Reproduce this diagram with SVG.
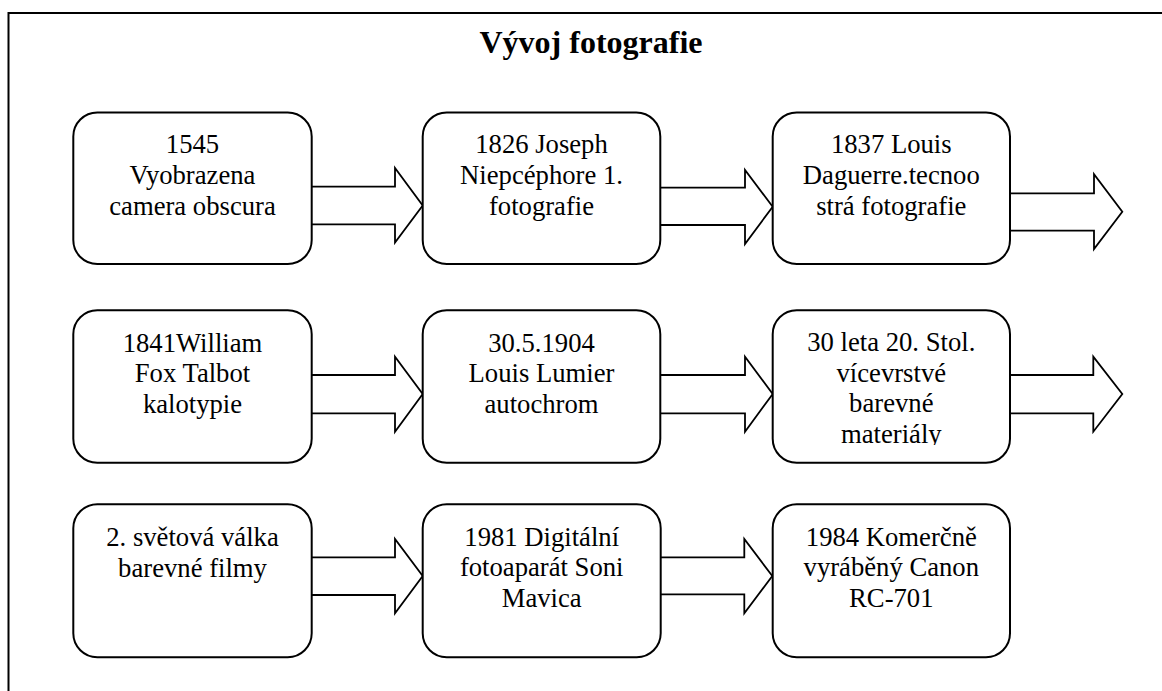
<svg xmlns="http://www.w3.org/2000/svg" width="1162" height="691" viewBox="0 0 1162 691">
<style>
.box{fill:#fff;stroke:#000;stroke-width:2}
.arr{fill:#fff;stroke:#000;stroke-width:1.8;stroke-linejoin:miter}
.t{font-family:"Liberation Serif","Times New Roman",serif;font-size:26.67px;fill:#000;text-anchor:middle}
.title{font-family:"Liberation Serif","Times New Roman",serif;font-size:32px;font-weight:bold;fill:#000;text-anchor:middle}
</style>
<defs>
<clipPath id="clip6"><rect x="772" y="310" width="240" height="135"/></clipPath>
</defs>
<rect width="1162" height="691" fill="#fff"/>
<path d="M8.5,691 V13 H1162" fill="none" stroke="#000" stroke-width="2"/>
<text class="title" x="591" y="53">Vývoj fotografie</text>
<g id="connectors">
<path class="arr" d="M312,186.7 H395 V168 L422.7,205.5 L395,242.5 V224.3 H312"/>
<path class="arr" d="M660,187.7 H745 V170 L772.7,206.7 L745,244 V225 H660"/>
<path class="arr" d="M1010,193.3 H1094 V174.3 L1122.3,211.7 L1094,249 V230.7 H1010"/>
<path class="arr" d="M312,375 H395 V356.7 L422.7,394 L395,431.7 V413.3 H312"/>
<path class="arr" d="M660,375 H745 V356.7 L772.7,394 L745,431.7 V413.3 H660"/>
<path class="arr" d="M1010,375 H1093.3 V356.7 L1122.3,394 L1093.3,431.7 V413.3 H1010"/>
<path class="arr" d="M312,557.3 H395 V539 L422.7,576 L395,613.3 V595 H312"/>
<path class="arr" d="M660.7,557.3 H744.3 V539 L772.3,576 L744.3,613.3 V594.3 H660.7"/>
</g>
<g id="n1"><rect class="box" x="73.3" y="112.5" width="238.4" height="151.5" rx="24"/>
<text class="t"><tspan x="192.5" y="153.3">1545</tspan><tspan x="192.5" y="184.3">Vyobrazena</tspan><tspan x="192.5" y="215">camera obscura</tspan></text></g>
<g id="n2"><rect class="box" x="422.7" y="112.5" width="237.6" height="151.5" rx="24"/>
<text class="t"><tspan x="541.5" y="153.3">1826 Joseph</tspan><tspan x="541.5" y="184">Niepcéphore 1.</tspan><tspan x="541.5" y="215">fotografie</tspan></text></g>
<g id="n3"><rect class="box" x="772.7" y="112.5" width="237.3" height="151.5" rx="24"/>
<text class="t"><tspan x="891.3" y="153.3">1837 Louis</tspan><tspan x="891.3" y="184">Daguerre.tecnoo</tspan><tspan x="891.3" y="215">strá fotografie</tspan></text></g>
<g id="n4"><rect class="box" x="73.3" y="310.3" width="238.4" height="152.4" rx="24"/>
<text class="t"><tspan x="192.5" y="351.5">1841William</tspan><tspan x="192.5" y="382.2">Fox Talbot</tspan><tspan x="192.5" y="412.7">kalotypie</tspan></text></g>
<g id="n5"><rect class="box" x="422.7" y="310.3" width="237.6" height="152.4" rx="24"/>
<text class="t"><tspan x="541.5" y="351.5">30.5.1904</tspan><tspan x="541.5" y="382.2">Louis Lumier</tspan><tspan x="541.5" y="412.7">autochrom</tspan></text></g>
<g id="n6"><rect class="box" x="772.7" y="310.3" width="237.3" height="152.4" rx="24"/>
<text class="t" clip-path="url(#clip6)"><tspan x="891.3" y="351">30 leta 20. Stol.</tspan><tspan x="891.3" y="381.7">vícevrstvé</tspan><tspan x="891.3" y="412.3">barevné</tspan><tspan x="891.3" y="442.5">materiály</tspan></text></g>
<g id="n7"><rect class="box" x="73.3" y="504.3" width="238.4" height="153" rx="24"/>
<text class="t"><tspan x="192.5" y="546">2. světová válka</tspan><tspan x="192.5" y="576.7">barevné filmy</tspan></text></g>
<g id="n8"><rect class="box" x="422.7" y="504.3" width="238" height="153" rx="24"/>
<text class="t"><tspan x="541.7" y="546">1981 Digitální</tspan><tspan x="541.7" y="576.3">fotoaparát Soni</tspan><tspan x="541.7" y="606.7">Mavica</tspan></text></g>
<g id="n9"><rect class="box" x="772.7" y="504.3" width="237.3" height="153" rx="24"/>
<text class="t"><tspan x="891.3" y="546">1984 Komerčně</tspan><tspan x="891.3" y="576.3">vyráběný Canon</tspan><tspan x="891.3" y="606.7">RC-701</tspan></text></g>
</svg>
